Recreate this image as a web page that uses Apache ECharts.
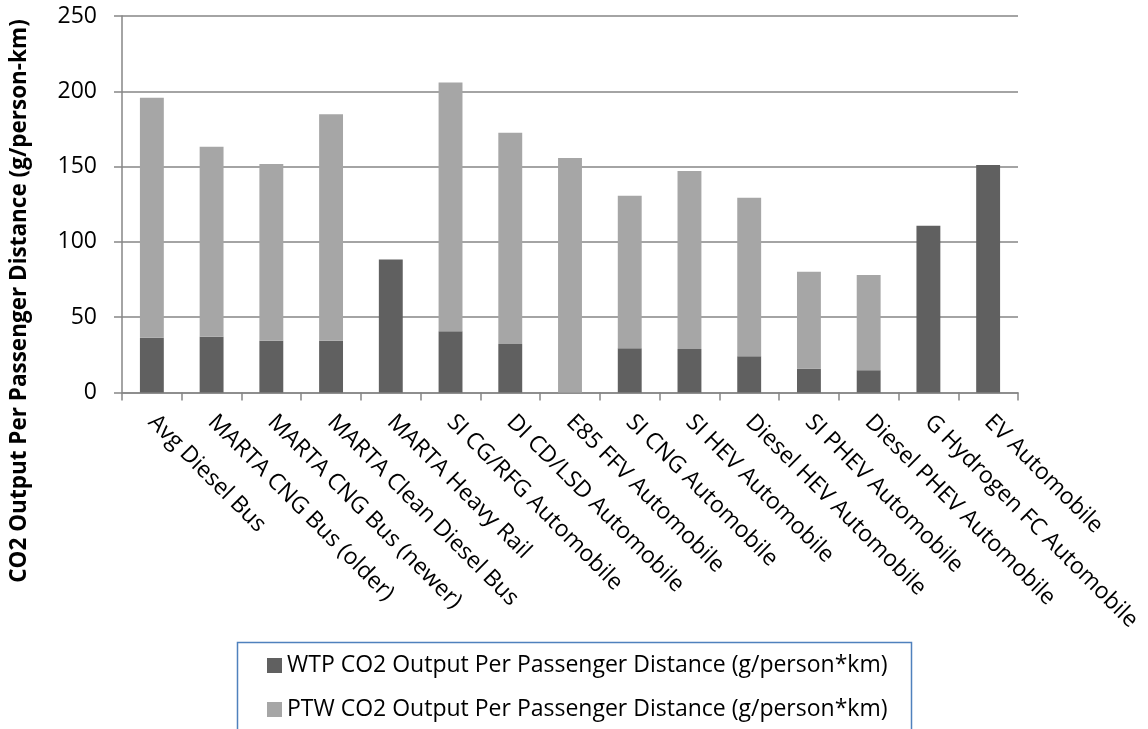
<!DOCTYPE html>
<html>
<head>
<meta charset="utf-8">
<script src="https://cdn.jsdelivr.net/npm/echarts@6/dist/echarts.min.js"></script>
<style>
  html, body { margin: 0; padding: 0; background: #ffffff; }
  #chart { width: 1148px; height: 729px; }
</style>
</head>
<body>
<div id="chart"></div>
<script>
// Vehicle / transit modes
const categories = [
  'Avg Diesel Bus', 'MARTA CNG Bus (older)', 'MARTA CNG Bus (newer)',
  'MARTA Clean Diesel Bus', 'MARTA Heavy Rail', 'SI CG/RFG Automobile',
  'DI CD/LSD Automobile', 'E85 FFV Automobile', 'SI CNG Automobile',
  'SI HEV Automobile', 'Diesel HEV Automobile', 'SI PHEV Automobile',
  'Diesel PHEV Automobile', 'G Hydrogen FC Automobile', 'EV Automobile'
];

// Well-to-pump CO2 (g/person*km)
const wtpValues = [36.4, 37.1, 34.4, 34.4, 88.3, 40.7, 32.2, -1.5, 29.4, 28.9, 24.1, 15.8, 14.8, 110.7, 151.0];

// Pump-to-wheel CO2 (g/person*km)
const ptwValues = [159.4, 126.1, 117.3, 150.3, 0, 165.1, 140.3, 155.7, 101.3, 118.2, 105.2, 64.3, 63.3, 0, 0];

const seriesNames = [
  'WTP CO2 Output Per Passenger Distance (g/person*km)',
  'PTW CO2 Output Per Passenger Distance (g/person*km)'
];
const yAxisTitle = 'CO2 Output Per Passenger Distance (g/person-km)';

const FONT = '"Open Sans", sans-serif';
const GRID_COLOR = '#868686';

const chart = echarts.init(document.getElementById('chart'), null, { renderer: 'canvas' });

chart.setOption({
  animation: false,
  backgroundColor: '#ffffff',
  grid: { left: 122, right: 130, top: 16, bottom: 336.5, containLabel: false },
  xAxis: {
    type: 'category',
    data: categories,
    axisLine: { show: true, lineStyle: { color: GRID_COLOR, width: 1.5 } },
    axisTick: { show: true, length: 8, alignWithLabel: false, lineStyle: { color: GRID_COLOR, width: 1.5 } },
    axisLabel: {
      interval: 0,
      rotate: -45,
      margin: 26,
      color: '#000000',
      fontFamily: FONT,
      fontSize: 23
    }
  },
  yAxis: {
    type: 'value',
    min: 0,
    max: 250,
    interval: 50,
    axisLine: { show: true, lineStyle: { color: GRID_COLOR, width: 1.5 } },
    axisTick: { show: true, length: 8, lineStyle: { color: GRID_COLOR, width: 1.5 } },
    splitLine: { show: true, lineStyle: { color: GRID_COLOR, width: 1.5 } },
    axisLabel: {
      margin: 25,
      color: '#000000',
      fontFamily: FONT,
      fontSize: 23
    }
  },
  legend: {
    orient: 'vertical',
    left: 262,
    top: 649,
    itemWidth: 15,
    itemHeight: 15,
    itemGap: 21,
    icon: 'rect',
    textStyle: { color: '#000000', fontFamily: FONT, fontSize: 23 },
    data: seriesNames
  },
  graphic: [
    {
      type: 'rect',
      shape: { x: 237.5, y: 642.5, width: 674, height: 120 },
      style: { fill: 'none', stroke: '#4f81bd', lineWidth: 1.5 },
      z: -1
    },
    {
      type: 'text',
      x: 20,
      y: 301,
      rotation: Math.PI / 2,
      style: {
        text: yAxisTitle,
        fill: '#000000',
        font: 'bold 22.5px "Open Sans", sans-serif',
        textAlign: 'center',
        textVerticalAlign: 'middle'
      }
    }
  ],
  series: [
    {
      name: seriesNames[0],
      type: 'bar',
      stack: 'total',
      barWidth: '40%',
      itemStyle: { color: '#606060' },
      data: wtpValues
    },
    {
      name: seriesNames[1],
      type: 'bar',
      stack: 'total',
      barWidth: '40%',
      itemStyle: { color: '#a6a6a6' },
      data: ptwValues
    }
  ]
});
</script>
</body>
</html>
